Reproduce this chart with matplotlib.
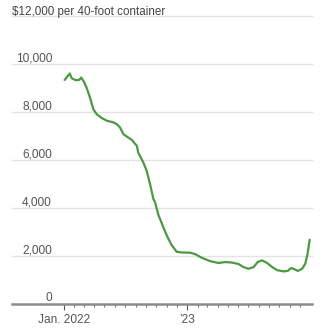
import matplotlib
matplotlib.use("Agg")
import matplotlib.pyplot as plt
import matplotlib.dates as mdates
import matplotlib.transforms as mtransforms
from matplotlib import font_manager
import pandas as pd

# ---- data ----
dates = ["2022-01-03", "2022-01-18", "2022-01-24", "2022-02-05", "2022-02-15",
         "2022-02-21", "2022-03-01", "2022-03-09", "2022-03-19", "2022-03-29",
         "2022-04-08", "2022-04-23", "2022-05-08", "2022-05-27", "2022-06-06",
         "2022-06-16", "2022-06-26", "2022-07-06", "2022-07-21", "2022-08-05",
         "2022-08-09", "2022-08-24", "2022-09-03", "2022-09-13", "2022-09-23",
         "2022-09-28", "2022-10-08", "2022-10-18", "2022-10-28", "2022-11-06",
         "2022-11-16", "2022-12-01", "2022-12-16", "2023-01-10", "2023-01-25",
         "2023-02-13",
         "2023-03-10", "2023-04-04", "2023-04-24", "2023-05-13", "2023-06-02",
         "2023-06-17", "2023-07-02", "2023-07-17", "2023-07-29", "2023-08-11",
         "2023-08-26", "2023-09-10", "2023-09-25", "2023-10-14", "2023-10-26",
         "2023-11-05", "2023-11-15", "2023-11-25", "2023-12-08", "2023-12-17",
         "2023-12-24", "2023-12-30"]
values = [9330, 9600, 9400, 9320, 9330,
          9430, 9260, 9010, 8600, 8110,
          7900, 7740, 7630, 7560, 7490,
          7350, 7070, 6970, 6830, 6580,
          6300, 5890, 5540, 4990, 4360,
          4220, 3690, 3340, 2990, 2715,
          2440, 2160, 2130, 2120, 2060,
          1910,
          1770, 1690, 1730, 1710, 1650,
          1520, 1450, 1520, 1730, 1800,
          1690, 1520, 1390, 1340, 1360,
          1480, 1430, 1360, 1450, 1660,
          2080, 2660]
y_ticks = [0, 2000, 4000, 6000, 8000, 10000, 12000]
y_labels = ["0", "2,000", "4,000", "6,000", "8,000", "10,000", "$12,000 per 40-foot container"]
x_major = ["2022-01-01", "2023-01-01"]
x_major_labels = ["Jan. 2022", "\u201923"]

available = {f.name for f in font_manager.fontManager.ttflist}
FONT = "Liberation Sans Narrow" if "Liberation Sans Narrow" in available else "Liberation Sans"

W, H = 323, 328
fig = plt.figure(figsize=(W / 100, H / 100), dpi=100)
left, right = 12 / W, 312 / W
bottom, top = (H - 303.5) / H, (H - 16) / H
ax = fig.add_axes([left, bottom, right - left, top - bottom])

x = pd.to_datetime(dates)
ax.plot(x, values, color="#4c9843", lw=1.6, solid_joinstyle="round",
        solid_capstyle="round", zorder=3)

ax.set_ylim(0, 12000)
ax.set_xlim(pd.Timestamp("2021-07-31"), pd.Timestamp("2024-01-06"))

# gridlines
for v in y_ticks[1:]:
    ax.axhline(v, color="#e3e3e3", lw=1.0, zorder=1, clip_on=False)
ax.axhline(0, color="#8c8c8c", lw=1.8, zorder=2, clip_on=False)

for s in ax.spines.values():
    s.set_visible(False)
ax.set_yticks([])

# y labels drawn inside the axes, above their gridlines
trans = mtransforms.blended_transform_factory(ax.transAxes, ax.transData)
lab_x = (52 - 12) / (312 - 12)
for v, lab in zip(y_ticks, y_labels):
    if v == 12000:
        ax.text(0, v, lab, transform=trans + mtransforms.ScaledTranslation(0, 1.5 / 100, fig.dpi_scale_trans),
                ha="left", va="baseline", fontsize=8.4, color="#444444", family=FONT)
    else:
        ax.text(lab_x, v, lab, transform=trans + mtransforms.ScaledTranslation(0, 2.5 / 100, fig.dpi_scale_trans),
                ha="right", va="baseline", fontsize=8.6, color="#555555", family=FONT)

# x ticks
ax.set_xticks(pd.to_datetime(x_major))
ax.set_xticklabels(x_major_labels)
minor = pd.date_range("2022-02-01", "2023-12-01", freq="MS")
ax.set_xticks(minor, minor=True)
ax.tick_params(axis="x", which="major", length=4.5, width=0.8, color="#555555",
               labelsize=8.6, labelcolor="#555555", pad=3)
ax.tick_params(axis="x", which="minor", length=2.5, width=0.7, color="#666666")
for t in ax.get_xticklabels():
    t.set_family(FONT)

fig.savefig("out.png", dpi=100)
